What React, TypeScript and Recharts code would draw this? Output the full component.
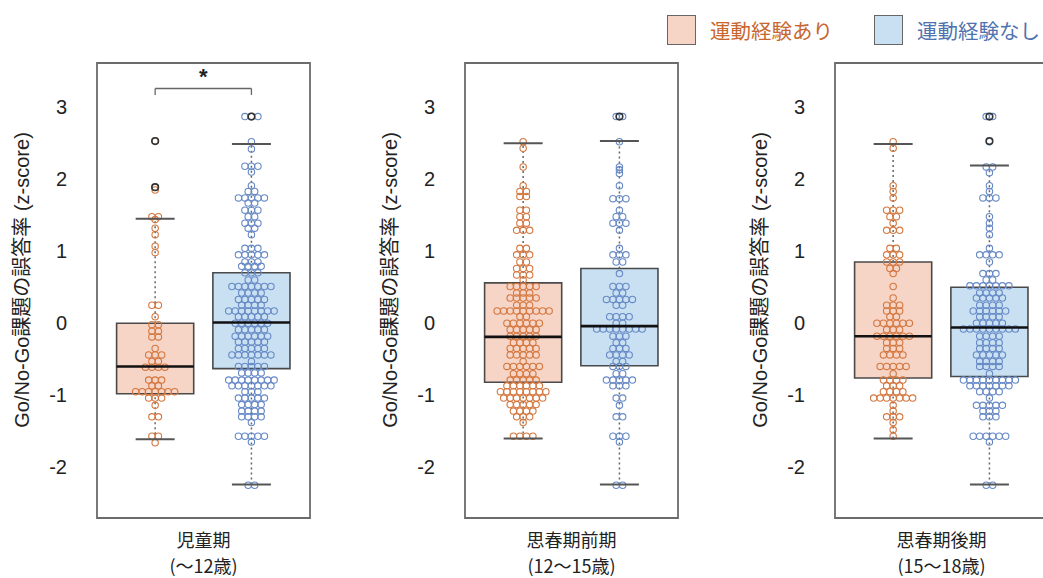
import React from "react";
import {
  ComposedChart,
  Legend,
  ReferenceArea,
  ReferenceDot,
  ReferenceLine,
  Scatter,
  XAxis,
  YAxis,
} from "recharts";

const LATIN = "'Liberation Sans', Arial, 'Noto Sans CJK JP', sans-serif";
const CJK = "'Noto Sans CJK JP', 'Liberation Sans', sans-serif";

const periods = ["児童期", "思春期前期", "思春期後期"];
const ages = ["(～12歳)", "(12～15歳)", "(15～18歳)"];
const groupNames = ["運動経験あり", "運動経験なし"];
const yTicks = [-2, -1, 0, 1, 2, 3];

// dot swarms as [z-score, number of children at that value]
const childYes: [number, number][] = [
  [2.52, 1], [1.88, 1], [1.84, 1], [1.47, 2], [1.43, 1], [1.31, 1], [1.22, 1], [1.06, 1], [0.97, 1],
  [0.24, 2], [0.08, 1], [-0.03, 2], [-0.12, 2], [-0.2, 2], [-0.36, 1], [-0.45, 3], [-0.54, 2],
  [-0.62, 4], [-0.8, 3], [-0.88, 2], [-0.96, 7], [-1.05, 3], [-1.15, 1], [-1.31, 2], [-1.58, 2], [-1.67, 1],
];
const childNo: [number, number][] = [
  [2.86, 3], [2.51, 1], [2.41, 1], [2.17, 3], [2.09, 1], [1.9, 1], [1.82, 2], [1.73, 5], [1.66, 2],
  [1.56, 3], [1.47, 2], [1.38, 3], [1.31, 2], [1.22, 1], [1.03, 3], [0.94, 5], [0.84, 3], [0.78, 4],
  [0.69, 3], [0.59, 2], [0.5, 7], [0.41, 4], [0.32, 5], [0.24, 4], [0.16, 8], [0.08, 5], [-0.01, 6],
  [-0.1, 5], [-0.19, 6], [-0.27, 5], [-0.36, 5], [-0.45, 7], [-0.54, 1], [-0.61, 5], [-0.7, 4],
  [-0.8, 8], [-0.88, 7], [-0.96, 3], [-1.05, 5], [-1.14, 4], [-1.23, 4], [-1.31, 4], [-1.39, 1],
  [-1.58, 5], [-1.66, 1], [-2.26, 2],
];
const earlyYes: [number, number][] = [
  [2.51, 1], [2.42, 1], [2.16, 1], [1.9, 1], [1.82, 2], [1.75, 2], [1.56, 2], [1.47, 2], [1.38, 2],
  [1.28, 3], [1.03, 2], [0.94, 3], [0.84, 2], [0.75, 3], [0.66, 3], [0.59, 1], [0.5, 5], [0.41, 3],
  [0.34, 5], [0.24, 3], [0.16, 9], [0.08, 2], [-0.01, 6], [-0.1, 5], [-0.19, 5], [-0.28, 4],
  [-0.36, 5], [-0.45, 5], [-0.54, 1], [-0.61, 6], [-0.71, 4], [-0.8, 5], [-0.88, 6], [-0.96, 8],
  [-1.05, 7], [-1.14, 5], [-1.23, 4], [-1.31, 3], [-1.39, 1], [-1.58, 4],
];
const earlyNo: [number, number][] = [
  [2.86, 2], [2.51, 1], [2.16, 1], [2.12, 1], [2.07, 1], [1.9, 1], [1.72, 3], [1.56, 1], [1.47, 2],
  [1.38, 3], [1.28, 1], [1.03, 1], [0.94, 3], [0.84, 2], [0.68, 1], [0.5, 3], [0.41, 2], [0.32, 5],
  [0.24, 2], [0.08, 4], [-0.01, 2], [-0.09, 8], [-0.19, 3], [-0.28, 2], [-0.36, 3], [-0.45, 4],
  [-0.54, 2], [-0.61, 3], [-0.71, 2], [-0.8, 5], [-0.88, 3], [-1.05, 2], [-1.15, 1], [-1.31, 2],
  [-1.58, 3], [-1.66, 1], [-2.26, 2],
];
const lateYes: [number, number][] = [
  [2.51, 1], [2.42, 1], [1.9, 1], [1.82, 1], [1.73, 1], [1.56, 3], [1.47, 2], [1.38, 1], [1.28, 3],
  [1.03, 2], [0.94, 3], [0.84, 3], [0.75, 2], [0.68, 1], [0.5, 1], [0.34, 1], [0.24, 3], [0.16, 3],
  [0.08, 2], [-0.01, 6], [-0.1, 3], [-0.19, 6], [-0.28, 3], [-0.36, 3], [-0.45, 4], [-0.61, 5],
  [-0.71, 1], [-0.8, 4], [-0.88, 3], [-0.96, 4], [-1.05, 7], [-1.15, 1], [-1.23, 1], [-1.31, 3],
  [-1.39, 1], [-1.49, 1], [-1.58, 1],
];
const lateNo: [number, number][] = [
  [2.86, 2], [2.51, 1], [2.16, 2], [2.08, 1], [1.9, 1], [1.82, 1], [1.73, 3], [1.47, 1], [1.38, 1],
  [1.31, 1], [1.22, 1], [1.03, 1], [0.94, 4], [0.84, 1], [0.68, 3], [0.59, 2], [0.51, 7], [0.41, 4],
  [0.34, 5], [0.24, 4], [0.16, 6], [0.08, 4], [-0.01, 5], [-0.09, 9], [-0.19, 4], [-0.28, 4],
  [-0.36, 4], [-0.45, 5], [-0.54, 4], [-0.61, 4], [-0.71, 1], [-0.8, 9], [-0.88, 7], [-0.96, 4],
  [-1.05, 1], [-1.15, 5], [-1.23, 3], [-1.31, 3], [-1.58, 6], [-1.66, 1], [-2.26, 2],
];

// box stats: [lower whisker, Q1, median, Q3, upper whisker]
const childYesBox = [-1.62, -0.99, -0.61, -0.01, 1.44];
const childNoBox = [-2.25, -0.64, 0.0, 0.69, 2.48];
const earlyYesBox = [-1.61, -0.83, -0.2, 0.55, 2.49];
const earlyNoBox = [-2.25, -0.6, -0.05, 0.75, 2.52];
const lateYesBox = [-1.61, -0.77, -0.19, 0.84, 2.48];
const lateNoBox = [-2.25, -0.75, -0.07, 0.49, 2.18];

const childYesOut = [2.52, 1.88];
const childNoOut = [2.86];
const earlyYesOut: number[] = [];
const earlyNoOut = [2.86];
const lateYesOut: number[] = [];
const lateNoOut = [2.52, 2.86];

const Y_DOMAIN: [number, number] = [-2.715, 3.604];
const CENTERS = [0.273, 0.725];
const DOT_STEP = 0.0305;
const BOX_HALF = 0.181;
const CAP_HALF = 0.0915;

const DOT = ["#d4773f", "#6689c6"];
const FILL = ["#f6d4c6", "#c8e0f2"];
const TEXT = ["#c8672f", "#4f73b0"];

function swarm(rows: [number, number][], center: number) {
  const pts: { x: number; y: number }[] = [];
  rows.forEach(([v, n]) => {
    for (let i = 0; i < n; i++) pts.push({ x: center + (i - (n - 1) / 2) * DOT_STEP, y: v });
  });
  return pts;
}

const ring = (color: string, r: number, w: number) => (p: any) => (
  <circle cx={p.cx} cy={p.cy} r={r} fill="none" stroke={color} strokeWidth={w} />
);

function YLabel() {
  return (
    <text
      x={22}
      y={280}
      transform="rotate(-90 22 280)"
      textAnchor="middle"
      dominantBaseline="central"
      fontSize={20}
      fill="#222"
      fontFamily={LATIN}
    >
      Go/No-Go課題の誤答率 (z-score)
    </text>
  );
}

function XLabel({ viewBox, index }: any) {
  const cx = viewBox ? viewBox.x + viewBox.width / 2 : 203;
  const top = viewBox ? viewBox.y : 518;
  return (
    <g fontFamily={CJK} fontSize={18} fill="#222" textAnchor="middle">
      <text x={cx} y={top + 29}>{periods[index]}</text>
      <text x={cx} y={top + 55}>{ages[index]}</text>
    </g>
  );
}

function LegendBox() {
  return (
    <div style={{ display: "flex", alignItems: "center", fontFamily: CJK, fontSize: 20.5 }}>
      {groupNames.map((name, i) => (
        <div key={name} style={{ display: "flex", alignItems: "center", width: 207 }}>
          <div
            style={{
              width: 27,
              height: 28,
              background: FILL[i],
              border: "1.5px solid #666",
              marginRight: 14,
            }}
          />
          <span style={{ color: TEXT[i], whiteSpace: "nowrap" }}>{name}</span>
        </div>
      ))}
    </div>
  );
}

function Panel({
  index,
  left,
  rows,
  boxes,
  outs,
  sig,
  legend,
}: {
  index: number;
  left: number;
  rows: [number, number][][];
  boxes: number[][];
  outs: number[][];
  sig?: boolean;
  legend?: boolean;
}) {
  return (
    <div style={{ position: "absolute", left, top: 0 }}>
      <ComposedChart width={320} height={578} margin={{ top: 63, right: 10, bottom: 0, left: 0 }}>
        <XAxis
          type="number"
          dataKey="x"
          domain={[0, 1]}
          allowDataOverflow
          tick={false}
          tickLine={false}
          axisLine={false}
          height={60}
          label={<XLabel index={index} />}
        />
        <YAxis
          type="number"
          dataKey="y"
          domain={Y_DOMAIN}
          allowDataOverflow
          ticks={yTicks}
          axisLine={false}
          tickLine={false}
          tickMargin={24}
          width={97}
          tick={{ fontSize: 20, fill: "#222", fontFamily: LATIN }}
          label={<YLabel />}
        />
        {legend && (
          <Legend
            layout="horizontal"
            verticalAlign="middle"
            align="center"
            wrapperStyle={{ left: 299, top: 15, width: 420, height: 32 }}
            content={() => <LegendBox />}
          />
        )}
        <ReferenceArea
          x1={0}
          x2={1}
          y1={Y_DOMAIN[0]}
          y2={Y_DOMAIN[1]}
          fill="none"
          stroke="#6b6b6b"
          strokeWidth={1.8}
        />
        {boxes.map((b, g) => (
          <ReferenceArea
            key={`box${g}`}
            x1={CENTERS[g] - BOX_HALF}
            x2={CENTERS[g] + BOX_HALF}
            y1={b[1]}
            y2={b[3]}
            fill={FILL[g]}
            fillOpacity={1}
            stroke="#4a4a4a"
            strokeWidth={1.6}
          />
        ))}
        {boxes.map((b, g) => (
          <ReferenceLine
            key={`wu${g}`}
            segment={[{ x: CENTERS[g], y: b[3] }, { x: CENTERS[g], y: b[4] }]}
            stroke="#666"
            strokeWidth={1.5}
            strokeDasharray="2 3"
          />
        ))}
        {boxes.map((b, g) => (
          <ReferenceLine
            key={`wl${g}`}
            segment={[{ x: CENTERS[g], y: b[0] }, { x: CENTERS[g], y: b[1] }]}
            stroke="#666"
            strokeWidth={1.5}
            strokeDasharray="2 3"
          />
        ))}
        {rows.map((r, g) => (
          <Scatter
            key={`dots${g}`}
            name={groupNames[g]}
            data={swarm(r, CENTERS[g])}
            shape={ring(DOT[g], 3.2, 1.1)}
            isAnimationActive={false}
          />
        ))}
        {boxes.map((b, g) => (
          <ReferenceLine
            key={`med${g}`}
            zIndex={700}
            segment={[
              { x: CENTERS[g] - BOX_HALF, y: b[2] },
              { x: CENTERS[g] + BOX_HALF, y: b[2] },
            ]}
            stroke="#111"
            strokeWidth={2.6}
          />
        ))}
        {boxes.map((b, g) => (
          <ReferenceLine
            key={`capU${g}`}
            zIndex={700}
            segment={[
              { x: CENTERS[g] - CAP_HALF, y: b[4] },
              { x: CENTERS[g] + CAP_HALF, y: b[4] },
            ]}
            stroke="#555"
            strokeWidth={2}
          />
        ))}
        {boxes.map((b, g) => (
          <ReferenceLine
            key={`capL${g}`}
            zIndex={700}
            segment={[
              { x: CENTERS[g] - CAP_HALF, y: b[0] },
              { x: CENTERS[g] + CAP_HALF, y: b[0] },
            ]}
            stroke="#555"
            strokeWidth={2}
          />
        ))}
        {outs.map((o, g) => (
          <Scatter
            key={`out${g}`}
            zIndex={800}
            data={o.map((v) => ({ x: CENTERS[g], y: v }))}
            shape={ring("#333", 3.3, 1.6)}
            isAnimationActive={false}
          />
        ))}
        {sig && (
          <>
            <ReferenceLine
              segment={[{ x: CENTERS[0], y: 3.16 }, { x: CENTERS[0], y: 3.25 }]}
              stroke="#666"
              strokeWidth={1.3}
            />
            <ReferenceLine
              segment={[{ x: CENTERS[0], y: 3.25 }, { x: CENTERS[1], y: 3.25 }]}
              stroke="#666"
              strokeWidth={1.3}
            />
            <ReferenceLine
              segment={[{ x: CENTERS[1], y: 3.25 }, { x: CENTERS[1], y: 3.16 }]}
              stroke="#666"
              strokeWidth={1.3}
            />
            <ReferenceDot
              x={(CENTERS[0] + CENTERS[1]) / 2}
              y={3.45}
              r={0}
              shape={(p: any) => (
                <text
                  x={p.cx}
                  y={p.cy + 10}
                  textAnchor="middle"
                  fontSize={22}
                  fontWeight="bold"
                  fontFamily={LATIN}
                  fill="#222"
                >
                  *
                </text>
              )}
            />
          </>
        )}
      </ComposedChart>
    </div>
  );
}

export default function App() {
  return (
    <div
      style={{
        position: "absolute",
        left: 0,
        top: 0,
        width: 1043,
        height: 578,
        overflow: "hidden",
        background: "#fff",
      }}
    >
      <Panel
        index={0}
        left={0}
        rows={[childYes, childNo]}
        boxes={[childYesBox, childNoBox]}
        outs={[childYesOut, childNoOut]}
        sig
      />
      <Panel
        index={1}
        left={368}
        rows={[earlyYes, earlyNo]}
        boxes={[earlyYesBox, earlyNoBox]}
        outs={[earlyYesOut, earlyNoOut]}
        legend
      />
      <Panel
        index={2}
        left={738}
        rows={[lateYes, lateNo]}
        boxes={[lateYesBox, lateNoBox]}
        outs={[lateYesOut, lateNoOut]}
      />
    </div>
  );
}
